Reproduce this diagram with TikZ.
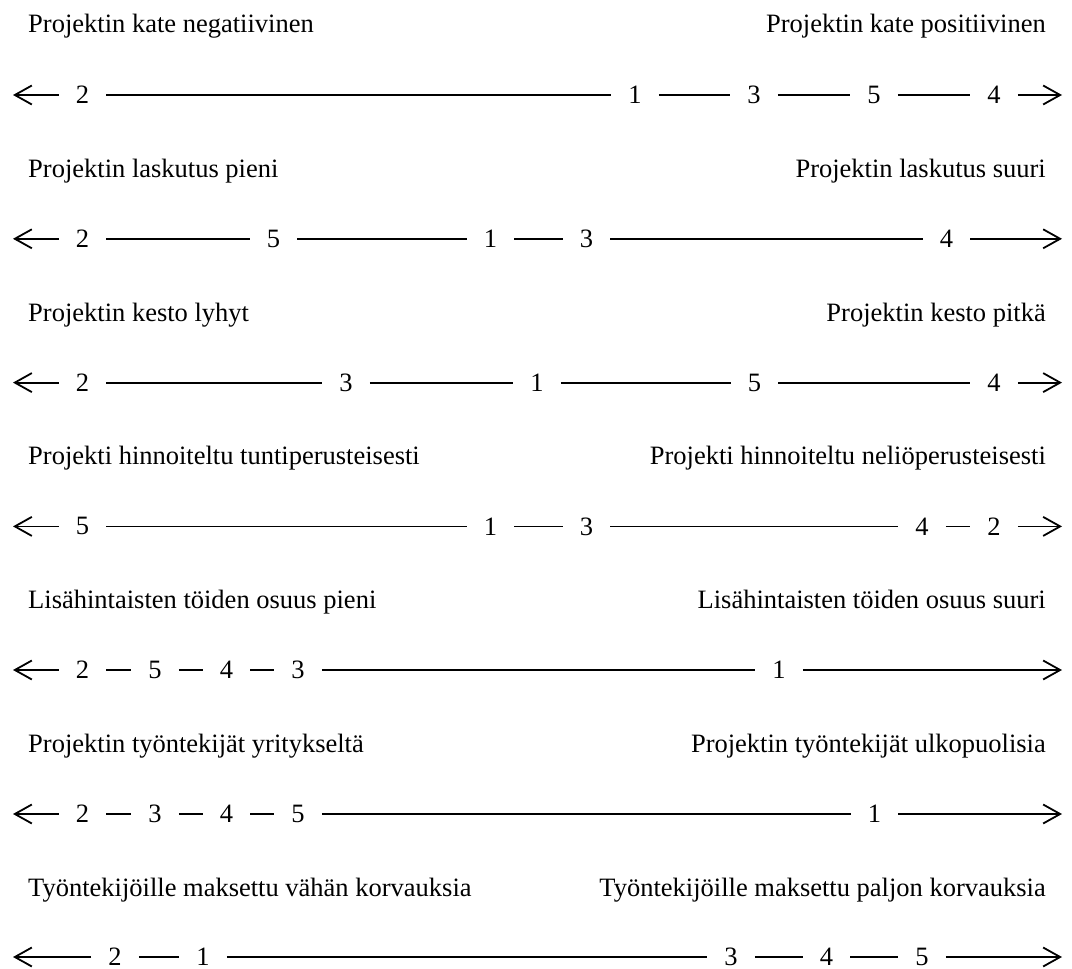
\documentclass[tikz,border=0pt]{standalone}
\usepackage{fontspec}
\setmainfont{Liberation Serif}
\usetikzlibrary{arrows.meta}

\begin{document}
\begin{tikzpicture}[x=1pt, y=-1pt,
    num/.style={inner xsep=17pt, inner ysep=0pt, font=\fontsize{26.5}{31}\selectfont},
    lbl/.style={inner sep=0pt, font=\fontsize{26.5}{31}\selectfont},
    seg/.style={line width=1.8pt},
    arr/.style={seg, -{Straight Barb[length=17pt, width=19pt]}}
  ]
  \useasboundingbox (0,0) rectangle (1072,969);

  % Projektin kate
  \node[lbl, anchor=base west] (kateneg) at (28,32) {Projektin kate negatiivinen};
  \node[lbl, anchor=base east] (katepos) at (1046,32) {Projektin kate positiivinen};
  \coordinate (kateL) at (13,95);
  \coordinate (kateR) at (1062,95);
  \node[num] (kate2) at (82.5,95) {2};
  \node[num] (kate1) at (635,95) {1};
  \node[num] (kate3) at (754,95) {3};
  \node[num] (kate5) at (874,95) {5};
  \node[num] (kate4) at (994,95) {4};
  \draw[arr] (kate2) -- (kateL);
  \draw[seg] (kate2) -- (kate1) -- (kate3) -- (kate5) -- (kate4);
  \draw[arr] (kate4) -- (kateR);

  % Projektin laskutus
  \node[lbl, anchor=base west] (laskpieni) at (28,177.3) {Projektin laskutus pieni};
  \node[lbl, anchor=base east] (lasksuuri) at (1046,177.3) {Projektin laskutus suuri};
  \coordinate (laskL) at (13,238.8);
  \coordinate (laskR) at (1062,238.8);
  \node[num] (lask2) at (82.5,238.8) {2};
  \node[num] (lask5) at (273.5,238.8) {5};
  \node[num] (lask1) at (490.5,238.8) {1};
  \node[num] (lask3) at (586.5,238.8) {3};
  \node[num] (lask4) at (946.5,238.8) {4};
  \draw[arr] (lask2) -- (laskL);
  \draw[seg] (lask2) -- (lask5) -- (lask1) -- (lask3) -- (lask4);
  \draw[arr] (lask4) -- (laskR);

  % Projektin kesto
  \node[lbl, anchor=base west] (kestolyhyt) at (28,321.1) {Projektin kesto lyhyt};
  \node[lbl, anchor=base east] (kestopitka) at (1046,321.1) {Projektin kesto pitkä};
  \coordinate (kestoL) at (13,382.6);
  \coordinate (kestoR) at (1062,382.6);
  \node[num] (kesto2) at (82.5,382.6) {2};
  \node[num] (kesto3) at (346,382.6) {3};
  \node[num] (kesto1) at (537,382.6) {1};
  \node[num] (kesto5) at (754.5,382.6) {5};
  \node[num] (kesto4) at (994,382.6) {4};
  \draw[arr] (kesto2) -- (kestoL);
  \draw[seg] (kesto2) -- (kesto3) -- (kesto1) -- (kesto5) -- (kesto4);
  \draw[arr] (kesto4) -- (kestoR);

  % Projektin hinnoittelu
  \node[lbl, anchor=base west] (hinttunti) at (28,464.9) {Projekti hinnoiteltu tuntiperusteisesti};
  \node[lbl, anchor=base east] (hintneli) at (1046,464.9) {Projekti hinnoiteltu neliöperusteisesti};
  \coordinate (hintL) at (13,526.4);
  \coordinate (hintR) at (1062,526.4);
  \node[num] (hint5) at (82.5,526.4) {5};
  \node[num] (hint1) at (490.5,526.4) {1};
  \node[num] (hint3) at (586.5,526.4) {3};
  \node[num] (hint4) at (922,526.4) {4};
  \node[num] (hint2) at (994,526.4) {2};
  \draw[arr] (hint5) -- (hintL);
  \draw[seg] (hint5) -- (hint1) -- (hint3) -- (hint4) -- (hint2);
  \draw[arr] (hint2) -- (hintR);

  % Lisahintaiset tyot
  \node[lbl, anchor=base west] (lisapieni) at (28,608.5) {Lisähintaisten töiden osuus pieni};
  \node[lbl, anchor=base east] (lisasuuri) at (1046,608.5) {Lisähintaisten töiden osuus suuri};
  \coordinate (lisaL) at (13,670);
  \coordinate (lisaR) at (1062,670);
  \node[num] (lisa2) at (82.5,670) {2};
  \node[num] (lisa5) at (155,670) {5};
  \node[num] (lisa4) at (226.5,670) {4};
  \node[num] (lisa3) at (298,670) {3};
  \node[num] (lisa1) at (779,670) {1};
  \draw[arr] (lisa2) -- (lisaL);
  \draw[seg] (lisa2) -- (lisa5) -- (lisa4) -- (lisa3) -- (lisa1);
  \draw[arr] (lisa1) -- (lisaR);

  % Projektin tyontekijat
  \node[lbl, anchor=base west] (tyoyritys) at (28,752.5) {Projektin työntekijät yritykseltä};
  \node[lbl, anchor=base east] (tyoulko) at (1046,752.5) {Projektin työntekijät ulkopuolisia};
  \coordinate (tyoL) at (13,814);
  \coordinate (tyoR) at (1062,814);
  \node[num] (tyo2) at (82.5,814) {2};
  \node[num] (tyo3) at (155,814) {3};
  \node[num] (tyo4) at (226.5,814) {4};
  \node[num] (tyo5) at (298,814) {5};
  \node[num] (tyo1) at (874.5,814) {1};
  \draw[arr] (tyo2) -- (tyoL);
  \draw[seg] (tyo2) -- (tyo3) -- (tyo4) -- (tyo5) -- (tyo1);
  \draw[arr] (tyo1) -- (tyoR);

  % Korvaukset
  \node[lbl, anchor=base west] (korvvahan) at (28,896.5) {Työntekijöille maksettu vähän korvauksia};
  \node[lbl, anchor=base east] (korvpaljon) at (1046,896.5) {Työntekijöille maksettu paljon korvauksia};
  \coordinate (korvL) at (13,957);
  \coordinate (korvR) at (1062,957);
  \node[num] (korv2) at (115,957) {2};
  \node[num] (korv1) at (203,957) {1};
  \node[num] (korv3) at (731,957) {3};
  \node[num] (korv4) at (826.5,957) {4};
  \node[num] (korv5) at (922,957) {5};
  \draw[arr] (korv2) -- (korvL);
  \draw[seg] (korv2) -- (korv1) -- (korv3) -- (korv4) -- (korv5);
  \draw[arr] (korv5) -- (korvR);
\end{tikzpicture}
\end{document}
